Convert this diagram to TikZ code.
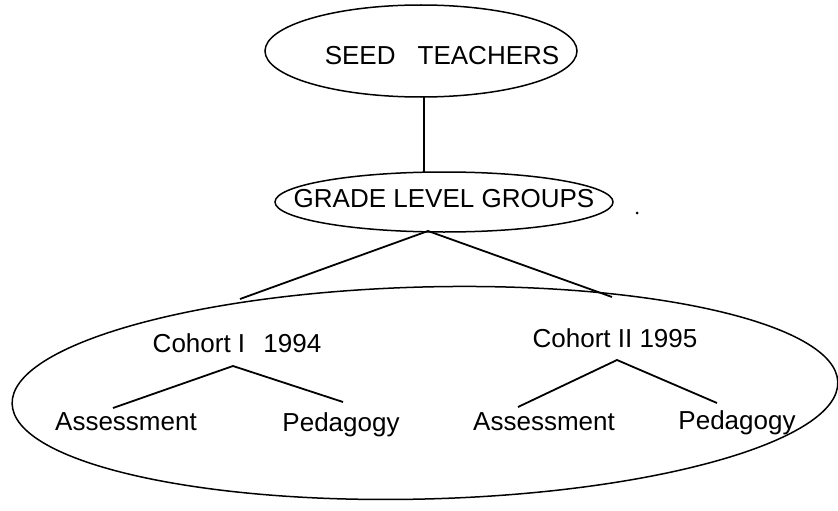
\documentclass[tikz,border=0pt]{standalone}
\usepackage{fontspec}
\setmainfont{Liberation Sans}
\begin{document}
\begin{tikzpicture}[x=1pt, y=-1pt,
  lbl/.style={font=\fontsize{26}{30}\selectfont, inner sep=0pt, anchor=base},
  ring/.style={line width=1.5pt},
  link/.style={line width=1.8pt}]
  \useasboundingbox (0,0) rectangle (838,511);

  \coordinate (seed) at (421,51);
  \coordinate (grade) at (444,202);
  \coordinate (cohorts) at (425,393);

  \draw[ring] (seed) ellipse [x radius=156, y radius=46];
  \draw[ring] (grade) ellipse [x radius=169, y radius=30];
  \draw[ring, rotate around={1.5:(cohorts)}] (cohorts) ellipse [x radius=413, y radius=106];

  \node[lbl] (seedtxt) at (442,65) {SEED\hspace{0.85em}TEACHERS};
  \node[lbl] (gradetxt) at (444,207) {GRADE LEVEL GROUPS};
  \fill (637,213) circle (1.5);

  \node[lbl] (coh1) at (237,352) {Cohort I\hspace{0.7em}1994};
  \node[lbl] (coh2) at (615,347) {Cohort II 1995};
  \node[lbl] (ass1) at (126,430) {Assessment};
  \node[lbl] (ped1) at (341,431) {Pedagogy};
  \node[lbl] (ass2) at (544,430) {Assessment};
  \node[lbl] (ped2) at (737,429) {Pedagogy};

  \coordinate (S1) at (424,97);
  \coordinate (G1) at (424,172);
  \coordinate (G2) at (428,231);
  \coordinate (K1) at (240,299);
  \coordinate (K2) at (612,297);

  \draw[link] (S1) -- (G1);
  \draw[link] (K1) -- (G2) -- (K2);

  \coordinate (C1) at (233,366);
  \coordinate (A1) at (113,408);
  \coordinate (P1) at (343,402);
  \coordinate (C2) at (617,360);
  \coordinate (A2) at (518,407);
  \coordinate (P2) at (717,403);

  \draw[link] (A1) -- (C1) -- (P1);
  \draw[link] (A2) -- (C2) -- (P2);
\end{tikzpicture}
\end{document}
